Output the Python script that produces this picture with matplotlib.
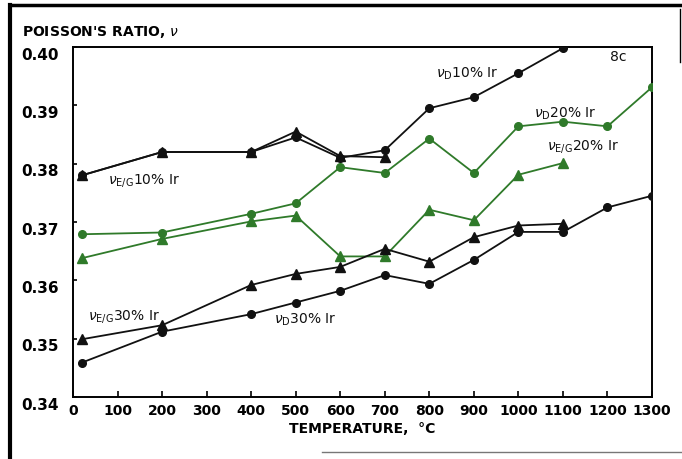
import matplotlib
matplotlib.use("Agg")
import matplotlib.pyplot as plt
from matplotlib.lines import Line2D
import matplotlib.transforms as mtransforms

plt.rcParams['font.family'] = ['DejaVu Sans']
plt.rcParams['mathtext.fontset'] = 'dejavusans'

# Data (temperature in °C, Poisson's ratio)
t_d10 = [20, 200, 400, 500, 600, 700, 800, 900, 1000, 1100]
v_d10 = [0.378, 0.382, 0.382, 0.3845, 0.381, 0.3823, 0.3895, 0.3914, 0.3955, 0.3998]

t_eg10 = [20, 200, 400, 500, 600, 700]
v_eg10 = [0.378, 0.382, 0.382, 0.3855, 0.3813, 0.3811]

t_d20 = [20, 200, 400, 500, 600, 700, 800, 900, 1000, 1100, 1200, 1300]
v_d20 = [0.3679, 0.3682, 0.3714, 0.3732, 0.3794, 0.3784, 0.3843, 0.3784, 0.3864, 0.3872, 0.3864, 0.3931]

t_eg20 = [20, 200, 400, 500, 600, 700, 800, 900, 1000, 1100]
v_eg20 = [0.3638, 0.3671, 0.3701, 0.3711, 0.3641, 0.3641, 0.3721, 0.3703, 0.3781, 0.3801]

t_eg30 = [20, 200, 400, 500, 600, 700, 800, 900, 1000, 1100]
v_eg30 = [0.3499, 0.3523, 0.3592, 0.3611, 0.3623, 0.3654, 0.3632, 0.3674, 0.3694, 0.3697]

t_d30 = [20, 200, 400, 500, 600, 700, 800, 900, 1000, 1100, 1200, 1300]
v_d30 = [0.3459, 0.3512, 0.3542, 0.3562, 0.3582, 0.3609, 0.3594, 0.3635, 0.3683, 0.3683, 0.3725, 0.3745]

x_ticks = list(range(0, 1301, 100))
y_ticks = [0.34, 0.35, 0.36, 0.37, 0.38, 0.39, 0.40]
y_ticklabels = ["0.34", "0.35", "0.36", "0.37", "0.38", "0.39", "0.40"]

BLACK = "#111111"
GREEN = "#2f7a2a"

fig = plt.figure(figsize=(6.82, 4.60), dpi=100)
ax = fig.add_axes([73/682, 1 - 398/460, 579/682, 350/460])

lw = 1.3
ax.plot(t_eg10, v_eg10, color=BLACK, lw=lw, marker='^', ms=6.5, zorder=3)
ax.plot(t_d10, v_d10, color=BLACK, lw=lw, marker='o', ms=5.5, zorder=3)
ax.plot(t_d20, v_d20, color=GREEN, lw=lw, marker='o', ms=5.5, zorder=3)
ax.plot(t_eg20, v_eg20, color=GREEN, lw=lw, marker='^', ms=6.5, zorder=3)
ax.plot(t_eg30, v_eg30, color=BLACK, lw=lw, marker='^', ms=6.5, zorder=3)
ax.plot(t_d30, v_d30, color=BLACK, lw=lw, marker='o', ms=5.5, zorder=3)

ax.set_xlim(0, 1300)
ax.set_ylim(0.34, 0.40)
ax.set_xticks(x_ticks)
ax.set_xticklabels([str(t) for t in x_ticks], fontsize=10, fontweight='bold')
ax.set_yticks(y_ticks)
ax.set_yticklabels(y_ticklabels, fontsize=11, fontweight='bold')
ax.tick_params(axis='both', direction='in', length=4, width=1.2, pad=4)
ax.tick_params(axis='y', length=3, pad=10)
offset = mtransforms.ScaledTranslation(0, -4/72, fig.dpi_scale_trans)
for lab in ax.get_yticklabels():
    lab.set_transform(lab.get_transform() + offset)
for s in ax.spines.values():
    s.set_linewidth(1.4)

ax.set_xlabel("TEMPERATURE,  °C", fontsize=10, fontweight='bold', labelpad=3)
fig.text(22/682, 1 - 32/460, "POISSON'S RATIO, $\\nu$", fontsize=10, fontweight='bold',
         ha='left', va='center')

tk = dict(fontsize=10, color=BLACK, ha='left', va='center')
ax.text(815, 0.3955, r"$\nu_{\mathrm{D}}$10% Ir", **tk)
ax.text(1205, 0.3985, "8c", **tk)
ax.text(1034, 0.3888, r"$\nu_{\mathrm{D}}$20% Ir", **tk)
ax.text(1064, 0.3832, r"$\nu_{\mathrm{E/G}}$20% Ir", **tk)
ax.text(78, 0.3773, r"$\nu_{\mathrm{E/G}}$10% Ir", **tk)
ax.text(34, 0.3540, r"$\nu_{\mathrm{E/G}}$30% Ir", **tk)
ax.text(451, 0.3534, r"$\nu_{\mathrm{D}}$30% Ir", **tk)

# scan frame lines
tf = fig.transFigure
fig.add_artist(Line2D([10/682, 10/682], [0, 1 - 6/460], transform=tf, color='black', lw=3))
fig.add_artist(Line2D([10/682, 1], [1 - 6/460, 1 - 6/460], transform=tf, color='black', lw=2.5))
fig.add_artist(Line2D([680/682, 680/682], [1 - 10/460, 1 - 63/460], transform=tf, color='black', lw=1))
fig.add_artist(Line2D([322/682, 1], [1 - 453/460, 1 - 453/460], transform=tf, color='#777777', lw=1))

fig.savefig("out.png", dpi=100)
